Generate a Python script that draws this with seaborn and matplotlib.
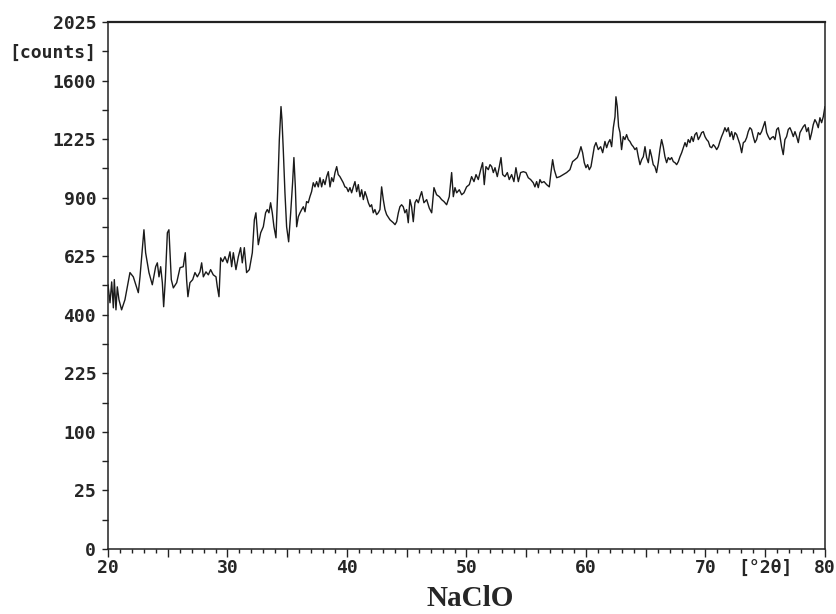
import numpy as np
import matplotlib
matplotlib.use("Agg")
import matplotlib.pyplot as plt
import seaborn as sns

# XRD pattern (2theta in degrees, intensity in counts)
two_theta = [
    20.00, 20.17, 20.31, 20.45, 20.53, 20.67, 20.78, 20.92, 21.14, 21.42,
    21.84, 22.12, 22.54, 22.68, 23.01, 23.15, 23.43, 23.71, 23.99, 24.13,
    24.27, 24.41, 24.55, 24.66, 24.80, 24.97, 25.10, 25.30, 25.47, 25.75,
    26.03, 26.30, 26.47, 26.58, 26.69, 26.86, 27.09, 27.28, 27.48, 27.70,
    27.84, 27.98, 28.20, 28.40, 28.59, 28.81, 29.04, 29.15, 29.29, 29.43,
    29.60, 29.79, 29.99, 30.21, 30.35, 30.49, 30.71, 30.91, 31.10, 31.24,
    31.41, 31.60, 31.83, 32.08, 32.25, 32.38, 32.58, 32.78, 33.00, 33.19,
    33.33, 33.47, 33.61, 33.75, 33.89, 34.06, 34.20, 34.34, 34.48, 34.56,
    34.67, 34.81, 34.95, 35.12, 35.29, 35.45, 35.56, 35.68, 35.79, 35.93,
    36.07, 36.21, 36.35, 36.49, 36.62, 36.76, 36.90, 37.04, 37.18, 37.32,
    37.46, 37.60, 37.74, 37.88, 38.02, 38.16, 38.30, 38.44, 38.58, 38.72,
    38.86, 39.00, 39.14, 39.27, 39.41, 39.55, 39.69, 39.83, 39.97, 40.11,
    40.25, 40.39, 40.53, 40.67, 40.81, 40.95, 41.09, 41.23, 41.37, 41.51,
    41.65, 41.79, 41.93, 42.06, 42.20, 42.34, 42.48, 42.62, 42.76, 42.90,
    43.04, 43.18, 43.32, 43.60, 43.88, 44.02, 44.16, 44.30, 44.43, 44.57,
    44.71, 44.85, 44.99, 45.13, 45.27, 45.41, 45.55, 45.69, 45.83, 45.97,
    46.11, 46.25, 46.44, 46.67, 46.89, 47.09, 47.28, 47.50, 47.73, 47.92,
    48.12, 48.34, 48.56, 48.76, 48.90, 49.04, 49.18, 49.40, 49.60, 49.79,
    50.01, 50.24, 50.43, 50.63, 50.80, 50.99, 51.19, 51.35, 51.49, 51.63,
    51.83, 51.97, 52.11, 52.25, 52.39, 52.58, 52.75, 52.89, 53.03, 53.22,
    53.42, 53.58, 53.78, 53.97, 54.14, 54.34, 54.53, 54.76, 54.98, 55.17,
    55.37, 55.59, 55.73, 55.87, 56.01, 56.15, 56.29, 56.49, 56.71, 56.93,
    57.07, 57.21, 57.35, 57.55, 57.82, 58.10, 58.38, 58.66, 58.88, 59.08,
    59.28, 59.44, 59.58, 59.72, 59.86, 60.00, 60.14, 60.28, 60.42, 60.56,
    60.70, 60.84, 61.03, 61.23, 61.40, 61.59, 61.73, 61.87, 62.01, 62.15,
    62.29, 62.43, 62.51, 62.62, 62.73, 62.85, 62.98, 63.12, 63.26, 63.40,
    63.54, 63.68, 63.82, 63.96, 64.10, 64.24, 64.38, 64.52, 64.66, 64.80,
    64.94, 65.08, 65.22, 65.36, 65.50, 65.63, 65.77, 65.91, 66.05, 66.19,
    66.33, 66.47, 66.61, 66.75, 66.89, 67.03, 67.17, 67.31, 67.45, 67.59,
    67.73, 67.87, 68.01, 68.15, 68.29, 68.42, 68.56, 68.70, 68.84, 68.98,
    69.12, 69.26, 69.40, 69.54, 69.68, 69.82, 69.96, 70.10, 70.24, 70.38,
    70.52, 70.66, 70.80, 70.94, 71.08, 71.21, 71.35, 71.49, 71.63, 71.77,
    71.91, 72.05, 72.19, 72.33, 72.47, 72.61, 72.75, 72.89, 73.03, 73.17,
    73.31, 73.45, 73.58, 73.72, 73.86, 74.00, 74.14, 74.28, 74.42, 74.56,
    74.70, 74.84, 74.98, 75.12, 75.26, 75.40, 75.54, 75.68, 75.82, 75.96,
    76.10, 76.24, 76.37, 76.51, 76.65, 76.79, 76.93, 77.07, 77.21, 77.35,
    77.49, 77.63, 77.77, 77.91, 78.05, 78.19, 78.33, 78.47, 78.61, 78.75,
    78.89, 79.02, 79.16, 79.30, 79.44, 79.58, 79.72, 79.86, 80.00,
]
counts = [
    509, 442, 520, 424, 529, 417, 501, 453, 417, 453,
    557, 540, 479, 540, 743, 640, 557, 509, 581, 597,
    540, 581, 517, 428, 529, 729, 743, 529, 497, 517,
    577, 581, 640, 529, 464, 517, 529, 557, 540, 560,
    597, 540, 560, 548, 569, 548, 540, 501, 464, 618,
    602, 623, 597, 644, 581, 640, 569, 623, 662, 597,
    662, 557, 569, 640, 790, 824, 675, 729, 757, 824,
    840, 824, 874, 824, 757, 706, 931, 1222, 1427, 1344,
    1163, 925, 757, 688, 824, 978, 1117, 956, 757, 805,
    824, 840, 854, 829, 880, 874, 905, 931, 978, 956,
    984, 956, 1005, 956, 995, 968, 1011, 1038, 956, 1005,
    984, 1033, 1066, 1022, 1011, 995, 978, 956, 952, 931,
    952, 925, 956, 984, 931, 968, 905, 941, 890, 931,
    905, 874, 854, 864, 824, 840, 815, 824, 840, 956,
    890, 840, 815, 790, 776, 767, 781, 824, 854, 864,
    854, 824, 840, 776, 890, 854, 781, 874, 890, 874,
    905, 931, 874, 890, 847, 824, 952, 915, 905, 890,
    880, 864, 905, 1033, 905, 952, 925, 941, 915, 925,
    956, 968, 1011, 984, 1022, 995, 1049, 1088, 968, 1066,
    1049, 1077, 1066, 1033, 1060, 1011, 1066, 1117, 1022, 1011,
    1033, 995, 1022, 984, 1060, 984, 1033, 1038, 1033, 1005,
    995, 978, 956, 984, 952, 995, 978, 984, 968, 956,
    1033, 1105, 1049, 1005, 1011, 1022, 1033, 1049, 1094, 1105,
    1117, 1145, 1180, 1145, 1088, 1060, 1077, 1049, 1066, 1122,
    1180, 1204, 1163, 1180, 1145, 1211, 1174, 1204, 1222, 1180,
    1294, 1362, 1491, 1427, 1301, 1264, 1163, 1240, 1222, 1252,
    1222, 1211, 1192, 1180, 1163, 1174, 1122, 1077, 1105, 1122,
    1180, 1117, 1088, 1163, 1122, 1077, 1066, 1033, 1088, 1163,
    1222, 1180, 1122, 1088, 1117, 1105, 1117, 1094, 1088, 1077,
    1094, 1122, 1145, 1174, 1204, 1180, 1222, 1204, 1240, 1211,
    1252, 1264, 1222, 1240, 1264, 1270, 1240, 1222, 1211, 1180,
    1174, 1192, 1180, 1163, 1180, 1211, 1240, 1264, 1294, 1270,
    1294, 1240, 1270, 1222, 1264, 1252, 1222, 1192, 1145, 1204,
    1211, 1234, 1270, 1294, 1283, 1240, 1204, 1222, 1264, 1252,
    1270, 1301, 1332, 1264, 1240, 1222, 1234, 1240, 1222, 1283,
    1294, 1240, 1180, 1134, 1222, 1240, 1283, 1294, 1270, 1240,
    1270, 1240, 1204, 1264, 1283, 1301, 1313, 1270, 1294, 1222,
    1264, 1313, 1344, 1325, 1294, 1356, 1325, 1362, 1427,
]

# axis ticks: square-root intensity axis as on the diffractometer printout
y_major = [0, 25, 100, 225, 400, 625, 900, 1225, 1600, 1806.25, 2025]
y_labels = ["0", "25", "100", "225", "400", "625", "900", "1225", "1600", "[counts]", "2025"]
y_minor = [6.25, 56.25, 156.25, 306.25, 506.25, 756.25, 1056.25, 1406.25]
x_major = [20, 25, 30, 35, 40, 45, 50, 55, 60, 65, 70, 75, 80]
x_labels = ["20", "", "30", "", "40", "", "50", "", "60", "", "70", "[°2θ]", "80"]

sns.set_style("ticks")
plt.rcParams["font.family"] = ["DejaVu Sans Mono"]

fig = plt.figure(figsize=(8.37, 6.14), dpi=100)
ax = fig.add_axes([0.129, 0.1059, 0.8566, 0.8583])

sns.lineplot(x=two_theta, y=counts, ax=ax, color="#1a1a1a", linewidth=1.0,
             estimator=None, sort=False)

ax.set_yscale("function", functions=(lambda v: np.sqrt(np.clip(v, 0, None)),
                                     lambda v: np.square(v)))
ax.set_xlim(20, 80)
ax.set_ylim(0, 2025)

ax.set_yticks(y_major)
ax.set_yticklabels(y_labels)
ax.set_yticks(y_minor, minor=True)
ax.set_xticks(x_major)
ax.set_xticklabels(x_labels)
ax.set_xticks(range(20, 81), minor=True)

ax.tick_params(axis="y", which="both", direction="out", length=4.5, width=1,
               pad=4, labelsize=13, color="#222222")
ax.tick_params(axis="x", which="major", direction="out", length=6, width=1,
               pad=1.5, labelsize=13, color="#222222")
ax.tick_params(axis="x", which="minor", direction="out", length=3, width=1,
               color="#222222")
for lab in ax.get_xticklabels() + ax.get_yticklabels():
    lab.set_fontweight("bold")

ax.set_xlabel("")
ax.set_ylabel("")
for side in ["left", "bottom", "right"]:
    ax.spines[side].set_linewidth(1.1)
    ax.spines[side].set_color("#222222")
ax.spines["top"].set_linewidth(1.6)
ax.spines["top"].set_color("#222222")

fig.text(0.562, 0.026, "NaClO", ha="center", va="center", fontsize=21,
         fontweight="bold", family=["Liberation Serif", "DejaVu Serif"])

fig.savefig("out.png", dpi=100)
